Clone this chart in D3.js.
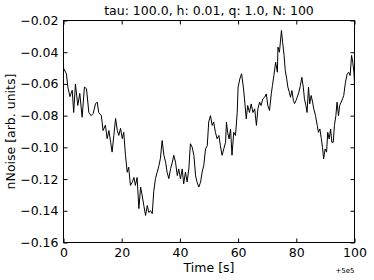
<!DOCTYPE html>
<html>
<head>
<meta charset="utf-8">
<script src="https://cdn.jsdelivr.net/npm/d3@7"></script>
<style>
  body { margin: 0; background: #fff; }
  svg { display: block; font-family: "DejaVu Sans", sans-serif; }
</style>
</head>
<body>
<div id="container"></div>
<script>
const WIDTH = 374;
const HEIGHT = 280;
const LEFT = 63.5, RIGHT = 354.5, TOP = 20.5, BOTTOM = 242.5;

const title = "tau: 100.0, h: 0.01, q: 1.0, N: 100";
const xTicks = [0, 20, 40, 60, 80, 100];
const yTicks = [-0.16, -0.14, -0.12, -0.10, -0.08, -0.06, -0.04, -0.02];

// time [s] (offset +5e5) and noise values
const times = [
  0, 1.0, 1.5, 2.2, 3.0, 3.5, 4.1, 4.9, 5.6, 6.4, 7.2, 7.9, 8.7, 9.5, 10.2,
  11.0, 11.6, 12.1, 13.0, 13.6, 14.4, 15.0, 15.6, 16.2, 16.7, 17.3, 17.9, 18.5,
  19.0, 19.6, 20.2, 20.7, 21.3, 21.9, 22.4, 23.0, 23.6, 24.2, 24.7, 25.3, 25.9,
  26.5, 27.0, 27.6, 28.2, 28.8, 29.3, 29.9, 30.5, 31.0, 31.6, 32.2, 32.8, 33.3,
  33.9, 34.5, 35.1, 35.6, 36.2, 36.8, 37.4, 37.9, 38.5, 39.1, 39.6, 40.2, 40.8,
  41.3, 41.9, 42.5, 43.1, 43.6, 44.2, 44.8, 45.4, 45.9, 46.5, 47.1, 47.7, 48.2,
  48.8, 49.4, 49.9, 50.5, 51.1, 51.6, 52.2, 52.8, 53.4, 53.9, 54.5, 55.1, 55.7,
  56.0, 56.4, 56.9, 57.4, 57.9, 58.5, 59.1, 59.7, 60.0, 60.6, 61.2, 61.8, 62.2,
  62.8, 63.3, 63.9, 64.5, 65.1, 65.7, 66.3, 66.8, 67.4, 67.9, 68.5, 69.1, 69.7,
  70.2, 70.8, 71.4, 71.8, 72.3, 72.9, 73.5, 73.7, 74.2, 74.9, 75.3, 75.8, 76.2,
  76.7, 77.1, 77.6, 78.0, 78.5, 79.0, 79.4, 79.9, 80.3, 80.9, 81.4, 81.9, 82.4,
  82.8, 83.3, 83.7, 84.2, 84.6, 85.1, 85.6, 86.0, 86.6, 87.2, 87.6, 88.1, 88.6,
  89.0, 89.4, 89.9, 90.4, 90.8, 91.3, 91.8, 92.2, 92.7, 93.1, 93.6, 94.0, 94.5,
  94.9, 95.4, 95.9, 96.3, 96.9, 97.5, 98.0, 98.5, 99.0, 99.4, 99.8, 100
];
const noise = [
  -0.050, -0.0536, -0.062, -0.068, -0.064, -0.078, -0.060, -0.0736, -0.066, -0.081,
  -0.062, -0.063, -0.078, -0.080, -0.0787, -0.0724, -0.0715, -0.078, -0.080, -0.0894,
  -0.086, -0.0945, -0.0894, -0.0968, -0.103, -0.0925, -0.0818, -0.0894, -0.0925, -0.088,
  -0.0945, -0.0905, -0.105, -0.1157, -0.1125, -0.124, -0.122, -0.119, -0.124, -0.119,
  -0.1386, -0.125, -0.130, -0.1367, -0.143, -0.1367, -0.141, -0.140, -0.1418, -0.128,
  -0.1197, -0.1157, -0.1115, -0.107, -0.0957, -0.105, -0.1094, -0.1157, -0.1197, -0.1134,
  -0.1094, -0.105, -0.1094, -0.1178, -0.1136, -0.120, -0.1136, -0.123, -0.1157, -0.1218,
  -0.113, -0.0977, -0.0998, -0.105, -0.118, -0.122, -0.125, -0.122, -0.115, -0.1115,
  -0.101, -0.099, -0.084, -0.080, -0.0862, -0.084, -0.0905, -0.0946, -0.0925, -0.0989,
  -0.105, -0.1008, -0.0968, -0.084, -0.0905, -0.0947, -0.0884, -0.105, -0.0905, -0.0925,
  -0.078, -0.062, -0.0568, -0.0536, -0.062, -0.0694, -0.082, -0.0736, -0.078, -0.0726,
  -0.078, -0.0757, -0.0862, -0.0757, -0.0715, -0.0736, -0.0694, -0.0684, -0.0663, -0.0736,
  -0.0768, -0.0663, -0.061, -0.0547, -0.0463, -0.0526, -0.0368, -0.040, -0.0263, -0.0337,
  -0.042, -0.0515, -0.0568, -0.062, -0.0652, -0.0684, -0.0642, -0.0705, -0.0724, -0.0705,
  -0.0684, -0.0652, -0.061, -0.0558, -0.062, -0.0694, -0.0736, -0.078, -0.062, -0.0726,
  -0.0673, -0.0715, -0.0757, -0.080, -0.0862, -0.0905, -0.0884, -0.0945, -0.100, -0.1073,
  -0.101, -0.103, -0.0905, -0.0947, -0.0884, -0.0968, -0.0968, -0.0862, -0.080, -0.0715,
  -0.080, -0.0736, -0.0715, -0.0694, -0.0673, -0.0589, -0.0536, -0.0526, -0.0547, -0.042,
  -0.0463, -0.0526, -0.060
];

const data = times.map((t, i) => ({ t: t, v: noise[i] }));

const svg = d3
  .select("#container")
  .append("svg")
  .attr("width", WIDTH)
  .attr("height", HEIGHT);

const xScale = d3.scaleLinear().domain([0, 100]).range([LEFT, RIGHT]);
const yScale = d3.scaleLinear().domain([-0.16, -0.02]).range([BOTTOM, TOP]);

const fmt = d => d3.format(".2f")(d).replace("-", "\u2212");

// the series
const line = d3
  .line()
  .x(d => xScale(d.t))
  .y(d => yScale(d.v));

svg
  .append("path")
  .datum(data)
  .attr("d", line)
  .attr("fill", "none")
  .attr("stroke", "#000")
  .attr("stroke-width", 1)
  .attr("stroke-linejoin", "round");

// axes, ticks pointing inwards on all four sides
const TICK = 4;
svg
  .append("g")
  .attr("transform", `translate(0,${BOTTOM})`)
  .call(d3.axisBottom(xScale).tickValues(xTicks).tickSize(-TICK).tickPadding(6).tickFormat(d3.format("d")));
svg
  .append("g")
  .attr("transform", `translate(0,${TOP})`)
  .call(d3.axisTop(xScale).tickValues(xTicks).tickSize(-TICK).tickFormat(""));
svg
  .append("g")
  .attr("transform", `translate(${LEFT},0)`)
  .call(d3.axisLeft(yScale).tickValues(yTicks).tickSize(-TICK).tickPadding(5).tickFormat(fmt));
svg
  .append("g")
  .attr("transform", `translate(${RIGHT},0)`)
  .call(d3.axisRight(yScale).tickValues(yTicks).tickSize(-TICK).tickFormat(""));

svg.selectAll(".domain").remove();
svg.selectAll(".tick line").attr("stroke", "#000");
svg
  .selectAll(".tick text")
  .attr("fill", "#000")
  .style("font-size", "12.5px")
  .style("font-family", "DejaVu Sans, sans-serif");

// frame
svg
  .append("rect")
  .attr("x", LEFT)
  .attr("y", TOP)
  .attr("width", RIGHT - LEFT)
  .attr("height", BOTTOM - TOP)
  .attr("fill", "none")
  .attr("stroke", "#000")
  .attr("stroke-width", 1);

// title and labels
svg
  .append("text")
  .attr("x", (LEFT + RIGHT) / 2)
  .attr("y", 15)
  .attr("text-anchor", "middle")
  .style("font-size", "12.5px")
  .text(title);

svg
  .append("text")
  .attr("x", (LEFT + RIGHT) / 2)
  .attr("y", 272)
  .attr("text-anchor", "middle")
  .style("font-size", "12.5px")
  .text("Time [s]");

svg
  .append("text")
  .attr("transform", `translate(15,${(TOP + BOTTOM) / 2}) rotate(-90)`)
  .attr("text-anchor", "middle")
  .style("font-size", "12.5px")
  .text("nNoise [arb. units]");

svg
  .append("text")
  .attr("x", RIGHT)
  .attr("y", 273)
  .attr("text-anchor", "end")
  .style("font-size", "7px")
  .text("+5e5");
</script>
</body>
</html>
